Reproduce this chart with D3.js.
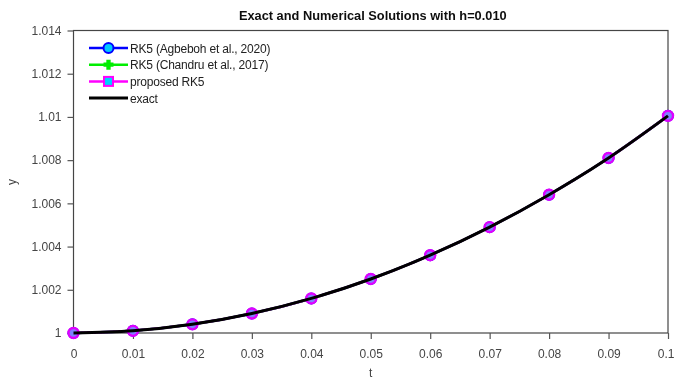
<!DOCTYPE html>
<html>
<head>
<meta charset="utf-8">
<script src="https://cdn.jsdelivr.net/npm/d3@7"></script>
<style>
  html, body { margin: 0; padding: 0; background: #fff; }
  svg { display: block; font-family: "Liberation Sans", Arial, sans-serif; }
</style>
</head>
<body>
<svg id="chart" width="675" height="382"></svg>
<script>
// Step points t and solution values for h = 0.010
const tValues = [0, 0.01, 0.02, 0.03, 0.04, 0.05, 0.06, 0.07, 0.08, 0.09, 0.1];
const exactY = [1, 1.0001, 1.0004, 1.0009, 1.0016, 1.0025, 1.0036, 1.0049, 1.0064, 1.0081, 1.01005];
const agbebohY = [1, 1.0001, 1.0004, 1.0009, 1.0016, 1.0025, 1.0036, 1.0049, 1.0064, 1.0081, 1.01005];
const chandruY = [1, 1.0001, 1.0004, 1.0009, 1.0016, 1.0025, 1.0036, 1.0049, 1.0064, 1.0081, 1.01005];
const proposedY = [1, 1.0001, 1.0004, 1.0009, 1.0016, 1.0025, 1.0036, 1.0049, 1.0064, 1.0081, 1.01005];
const xTicks = [0, 0.01, 0.02, 0.03, 0.04, 0.05, 0.06, 0.07, 0.08, 0.09, 0.1];
const xTickLabels = ["0", "0.01", "0.02", "0.03", "0.04", "0.05", "0.06", "0.07", "0.08", "0.09", "0.1"];
const yTicks = [1, 1.002, 1.004, 1.006, 1.008, 1.01, 1.012, 1.014];
const yTickLabels = ["1", "1.002", "1.004", "1.006", "1.008", "1.01", "1.012", "1.014"];
const seriesNames = ["RK5 (Agbeboh et al., 2020)", "RK5 (Chandru et al., 2017)", "proposed RK5", "exact"];

const svg = d3.select("#chart");
const m = { left: 73.5, right: 668, top: 30.5, bottom: 333 };

const x = d3.scaleLinear().domain([0, 0.1]).range([m.left, m.right]);
const y = d3.scaleLinear().domain([1, 1.014]).range([m.bottom, m.top]);

const defs = svg.append("defs");
defs.append("filter").attr("id", "soft")
  .append("feGaussianBlur").attr("stdDeviation", 0.45);

const root = svg.append("g").attr("filter", "url(#soft)");

// Axes box
const tickColor = "#555";
root.append("rect")
  .attr("x", m.left).attr("y", m.top)
  .attr("width", m.right - m.left).attr("height", m.bottom - m.top)
  .attr("fill", "none").attr("stroke", "#444").attr("stroke-width", 1.2);

const xAxis = root.append("g").attr("transform", `translate(0,${m.bottom})`)
  .call(d3.axisBottom(x).tickValues(xTicks).tickSize(6).tickPadding(10)
    .tickFormat((d, i) => xTickLabels[i]));
const yAxis = root.append("g").attr("transform", `translate(${m.left},0)`)
  .call(d3.axisLeft(y).tickValues(yTicks).tickSize(6).tickPadding(6)
    .tickFormat((d, i) => yTickLabels[i]));
[xAxis, yAxis].forEach(a => {
  a.select(".domain").remove();
  a.selectAll("line").attr("stroke", tickColor).attr("stroke-width", 1.2);
  a.selectAll("text").attr("fill", "#444").attr("font-size", 12)
    .attr("font-family", "Liberation Sans, Arial, sans-serif");
});
// keep the last x label inside the canvas
xAxis.selectAll(".tick").filter(d => d === 0.1).select("text")
  .attr("text-anchor", "end").attr("x", 674 - m.right);

// Title and axis labels
root.append("text").attr("x", (m.left + m.right) / 2 + 2).attr("y", 20)
  .attr("text-anchor", "middle").attr("font-weight", "bold").attr("font-size", 12.8)
  .attr("fill", "#111").text("Exact and Numerical Solutions with h=0.010");
root.append("text").attr("x", (m.left + m.right) / 2).attr("y", 377)
  .attr("text-anchor", "middle").attr("font-size", 12).attr("fill", "#444").text("t");
root.append("text").attr("transform", "translate(16,182) rotate(-90)")
  .attr("text-anchor", "middle").attr("font-size", 12).attr("fill", "#444").text("y");

// Series
const line = d3.line().x(d => x(d[0])).y(d => y(d[1])).curve(d3.curveMonotoneX);
const zip = vals => tValues.map((t, i) => [t, vals[i]]);

const star = d3.symbol().type(d3.symbolCross).size(40);

function circleMarker(g, cx, cy) {
  g.append("circle").attr("cx", cx).attr("cy", cy).attr("r", 5)
    .attr("fill", "#00c8ff").attr("stroke", "#0000ff").attr("stroke-width", 2);
}
function starMarker(g, cx, cy) {
  g.append("path").attr("d", star).attr("transform", `translate(${cx},${cy})`)
    .attr("fill", "#00ee00").attr("stroke", "#00ee00").attr("stroke-width", 1.5);
}
function squareMarker(g, cx, cy) {
  g.append("rect").attr("x", cx - 4.5).attr("y", cy - 4.5).attr("width", 9).attr("height", 9)
    .attr("fill", "#00d0ff").attr("stroke", "#ff00ff").attr("stroke-width", 2);
}

const plot = root.append("g");
plot.append("path").datum(zip(agbebohY)).attr("d", line)
  .attr("fill", "none").attr("stroke", "#0000ff").attr("stroke-width", 2.5);
zip(agbebohY).forEach(d => circleMarker(plot, x(d[0]), y(d[1])));
plot.append("path").datum(zip(chandruY)).attr("d", line)
  .attr("fill", "none").attr("stroke", "#00ee00").attr("stroke-width", 2.5);
zip(chandruY).forEach(d => starMarker(plot, x(d[0]), y(d[1])));
plot.append("path").datum(zip(proposedY)).attr("d", line)
  .attr("fill", "none").attr("stroke", "#ff00ff").attr("stroke-width", 2.5);
zip(proposedY).forEach(d => {
  plot.append("circle").attr("cx", x(d[0])).attr("cy", y(d[1])).attr("r", 5)
    .attr("fill", "#8080ff").attr("stroke", "#e000ff").attr("stroke-width", 2.4);
});
plot.append("path").datum(zip(exactY)).attr("d", line)
  .attr("fill", "none").attr("stroke", "#000").attr("stroke-width", 3);

// Legend
const legend = root.append("g");
const lx0 = 89, lx1 = 128, ly0 = 48, ldy = 16.7;
const legendColors = ["#0000ff", "#00ee00", "#ff00ff", "#000"];
const legendMarkers = [circleMarker, starMarker, squareMarker, null];
seriesNames.forEach((name, i) => {
  const ly = ly0 + i * ldy;
  legend.append("line").attr("x1", lx0).attr("x2", lx1).attr("y1", ly).attr("y2", ly)
    .attr("stroke", legendColors[i]).attr("stroke-width", i === 3 ? 3 : 2.5);
  if (legendMarkers[i]) legendMarkers[i](legend, (lx0 + lx1) / 2, ly);
  legend.append("text").attr("x", lx1 + 2).attr("y", ly + 4.5)
    .attr("font-size", 12).attr("fill", "#222").attr("letter-spacing", -0.2).text(name);
});
</script>
</body>
</html>
